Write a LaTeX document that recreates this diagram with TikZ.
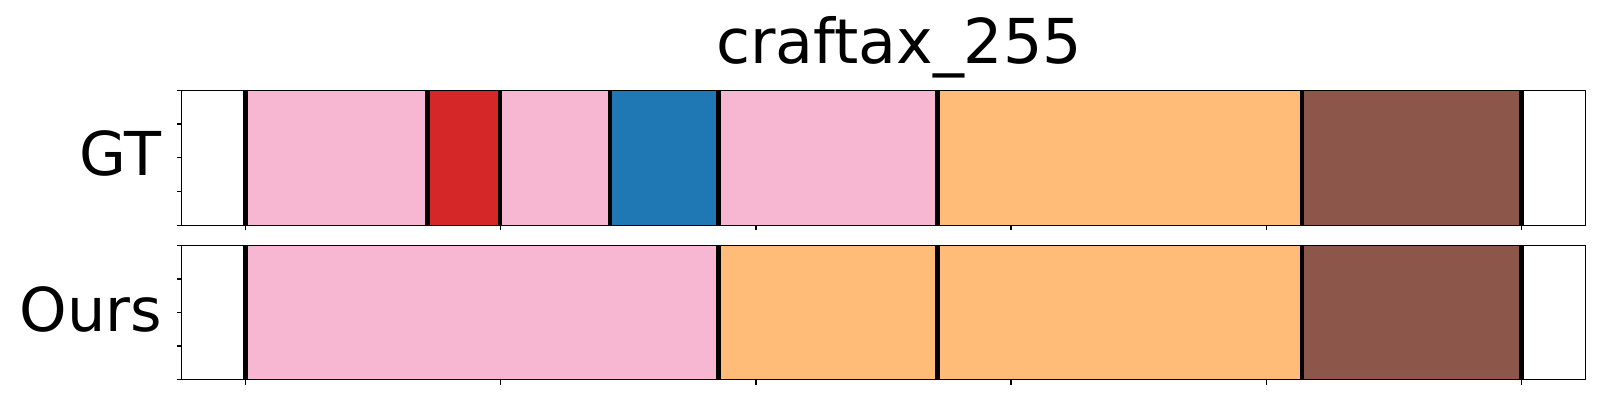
\documentclass[tikz,border=0pt]{standalone}
\usepackage{fontspec}
\setmainfont{DejaVu Sans}
\definecolor{tabpink}{HTML}{F7B6D2}
\definecolor{tabred}{HTML}{D62728}
\definecolor{tabblue}{HTML}{1F77B4}
\definecolor{taborange}{HTML}{FFBB78}
\definecolor{tabbrown}{HTML}{8C564B}
\begin{document}
\begin{tikzpicture}[x=0.01cm,y=-0.01cm,
  frame/.style={line width=0.4pt},
  cut/.style={line width=1.3pt},
  tick/.style={line width=0.35pt},
  rowlabel/.style={font=\fontsize{17.2}{20}\selectfont,anchor=base east,inner sep=0pt}]

\useasboundingbox (0,0) rectangle (1600,400);

% top panel: ground truth
\begin{scope}
\foreach \a/\b/\c in {245.5/427.7/tabpink,427.7/500/tabred,500/610/tabpink,610/718.7/tabblue,718.7/937.7/tabpink,937.7/1302/taborange,1302/1521.5/tabbrown}
  \fill[\c] (\a,90.3) rectangle (\b,225.3);
\foreach \a in {245.5,427.7,500,610,718.7,937.7,1302,1521.5}
  \draw[cut] (\a,90.3) -- (\a,225.3);
\draw[frame] (181.7,90.3) coordinate (gtnw) rectangle (1585.7,225.3) coordinate (gtse);
\foreach \y in {90.3,124.05,157.8,191.55,225.3}
  \draw[tick] (181.7,\y) -- ++(-5,0);
\foreach \x in {245.5,500.7,755.9,1011.1,1266.3,1521.5}
  \draw[tick] (\x,225.3) -- ++(0,5);
\node[rowlabel] (gt) at (162,175) {GT};
\end{scope}

% bottom panel: ours
\begin{scope}
\foreach \a/\b/\c in {245.5/718.7/tabpink,718.7/937.7/taborange,937.7/1302/taborange,1302/1521.5/tabbrown}
  \fill[\c] (\a,245.3) rectangle (\b,379.7);
\foreach \a in {245.5,718.7,937.7,1302,1521.5}
  \draw[cut] (\a,245.3) -- (\a,379.7);
\draw[frame] (181.7,245.3) coordinate (ournw) rectangle (1585.7,379.7) coordinate (ourse);
\foreach \y in {245.3,278.9,312.5,346.1,379.7}
  \draw[tick] (181.7,\y) -- ++(-5,0);
\foreach \x in {245.5,500.7,755.9,1011.1,1266.3,1521.5}
  \draw[tick] (\x,379.7) -- ++(0,5);
\node[rowlabel] (ours) at (163,331.7) {Ours};
\end{scope}

\node[font=\fontsize{17.6}{20}\selectfont,anchor=base,inner sep=0pt] (title) at (899,63.3) {craftax\_255};

\end{tikzpicture}
\end{document}
